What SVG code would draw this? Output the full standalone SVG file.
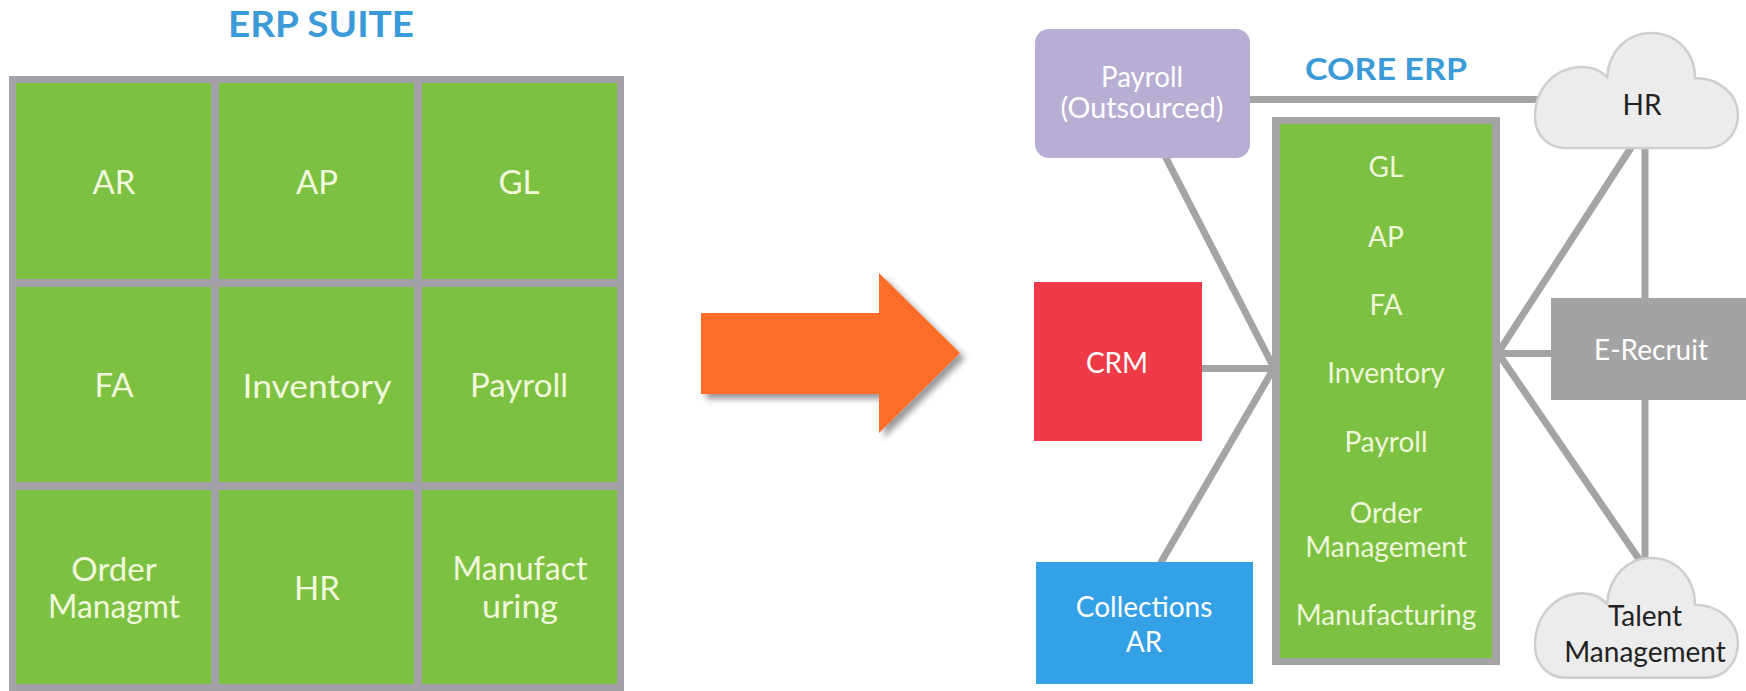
<svg xmlns="http://www.w3.org/2000/svg" width="1746" height="691" viewBox="0 0 1746 691">
<defs>
<style>
.t{font-family:Lato,"Liberation Sans",sans-serif;text-anchor:middle}
.cell{fill:#7dc142}
.ct{fill:#f1f9dc;font-size:33px}
.core{fill:#eef7da;font-size:28px}
.w{fill:#ffffff;font-size:28px}
.dk{fill:#222222;font-size:28px}
.ttl{fill:#3b9ad8;font-weight:bold}
.ln{stroke:#a4a4a4;stroke-width:7;fill:none}
.cloud{fill:#ececec;stroke:#cfcfcf;stroke-width:2.5}
</style>
<filter id="sh" x="-10%" y="-10%" width="130%" height="130%">
<feDropShadow dx="5" dy="5" stdDeviation="3" flood-color="#000" flood-opacity="0.4"/>
</filter>
<path id="cl" d="M30 115 C13 115 0 102 0 84 C0 55 20 34 48 34 C58 34 66 38 72 44 C74 18 92 0 116 0 C142 0 160 20 160 45 C185 45 203 62 203 82 C203 100 190 115 172 115 Z"/>
</defs>
<rect width="1746" height="691" fill="#ffffff"/>

<g id="erp-suite-title"><text class="t ttl" x="321" y="37" font-size="36" textLength="186" lengthAdjust="spacingAndGlyphs">ERP SUITE</text></g>
<g id="erp-suite">
<rect x="9" y="76" width="615" height="615" fill="#a4a2a8"/>
<g id="cell-ar"><rect class="cell" x="16" y="83" width="195" height="196"/><text class="t ct" x="114" y="194">AR</text></g>
<g id="cell-ap"><rect class="cell" x="219" y="83" width="195" height="196"/><text class="t ct" x="317" y="194">AP</text></g>
<g id="cell-gl"><rect class="cell" x="422" y="83" width="195" height="196"/><text class="t ct" x="519" y="194">GL</text></g>
<g id="cell-fa"><rect class="cell" x="16" y="287" width="195" height="195"/><text class="t ct" x="114" y="397" font-size="34">FA</text></g>
<g id="cell-inventory"><rect class="cell" x="219" y="287" width="195" height="195"/><text class="t ct" x="317" y="398" font-size="38" textLength="149" lengthAdjust="spacingAndGlyphs">Inventory</text></g>
<g id="cell-payroll"><rect class="cell" x="422" y="287" width="195" height="195"/><text class="t ct" x="519" y="397" font-size="35">Payroll</text></g>
<g id="cell-order"><rect class="cell" x="16" y="490" width="195" height="194"/><text class="t ct" font-size="31"><tspan x="114" y="580.5">Order</tspan><tspan x="114" y="618" textLength="132" lengthAdjust="spacingAndGlyphs">Managmt</tspan></text></g>
<g id="cell-hr"><rect class="cell" x="219" y="490" width="195" height="194"/><text class="t ct" x="317" y="600" font-size="34">HR</text></g>
<g id="cell-manufact"><rect class="cell" x="422" y="490" width="195" height="194"/><text class="t ct" font-size="31"><tspan x="520" y="580" textLength="135" lengthAdjust="spacingAndGlyphs">Manufact</tspan><tspan x="520" y="617.5" textLength="76" lengthAdjust="spacingAndGlyphs">uring</tspan></text></g>
</g>

<g id="big-arrow"><polygon points="701,313 879,313 879,273 960,353 879,433 879,394 701,394" fill="#fd6d2a" filter="url(#sh)"/></g>

<g id="connectors">
<line class="ln" x1="1250" y1="99.5" x2="1560" y2="99.5"/>
<line class="ln" x1="1165" y1="156" x2="1274" y2="368"/>
<line class="ln" x1="1200" y1="368.5" x2="1276" y2="368.5"/>
<line class="ln" x1="1160" y1="564" x2="1274" y2="368"/>
<line class="ln" x1="1636" y1="140" x2="1498" y2="353"/>
<line class="ln" x1="1645" y1="140" x2="1645" y2="300"/>
<line class="ln" x1="1496" y1="353.5" x2="1553" y2="353.5"/>
<line class="ln" x1="1498" y1="353" x2="1643" y2="565"/>
<line class="ln" x1="1645" y1="398" x2="1645" y2="565"/>
</g>

<g id="core-erp-title"><text class="t ttl" x="1386" y="80" font-size="31" textLength="162" lengthAdjust="spacingAndGlyphs">CORE ERP</text></g>

<g id="payroll-outsourced">
<rect x="1035" y="29" width="215" height="129" rx="14" fill="#b8aed3"/>
<text class="t w" fill="#f4f2f8" font-size="26"><tspan x="1142" y="86.5" textLength="82" lengthAdjust="spacingAndGlyphs">Payroll</tspan><tspan x="1142" y="118" textLength="163" lengthAdjust="spacingAndGlyphs">(Outsourced)</tspan></text>
</g>

<g id="core-erp">
<rect x="1272" y="117" width="228" height="548" fill="#a4a4a4"/>
<rect x="1280" y="124" width="212" height="534" fill="#7dc142"/>
<text class="t core" x="1386" y="177">GL</text>
<text class="t core" x="1386" y="247">AP</text>
<text class="t core" x="1386" y="315">FA</text>
<text class="t core" x="1386" y="383">Inventory</text>
<text class="t core" x="1386" y="452">Payroll</text>
<text class="t core"><tspan x="1386" y="523">Order</tspan><tspan x="1386" y="557">Management</tspan></text>
<text class="t core" x="1386" y="625" font-size="29">Manufacturing</text>
</g>

<g id="crm">
<rect x="1034" y="282" width="168" height="159" fill="#ef3b48"/>
<text class="t w" x="1117" y="373">CRM</text>
</g>

<g id="collections-ar">
<rect x="1036" y="562" width="217" height="122" fill="#34a0e6"/>
<text class="t w"><tspan x="1144" y="617">Collections</tspan><tspan x="1144" y="652">AR</tspan></text>
</g>

<g id="hr-cloud">
<use href="#cl" class="cloud" transform="translate(1535,33)"/>
<text class="t dk" x="1642" y="115" font-size="30">HR</text>
</g>

<g id="e-recruit">
<rect x="1551" y="298" width="195" height="102" fill="#a3a3a3"/>
<text class="t w" x="1651" y="360" fill="#f4f4f4">E-Recruit</text>
</g>

<g id="talent-cloud">
<use href="#cl" class="cloud" transform="translate(1535,558) scale(1,1.04)"/>
<text class="t dk"><tspan x="1645" y="626">Talent</tspan><tspan x="1645" y="662">Management</tspan></text>
</g>
</svg>
